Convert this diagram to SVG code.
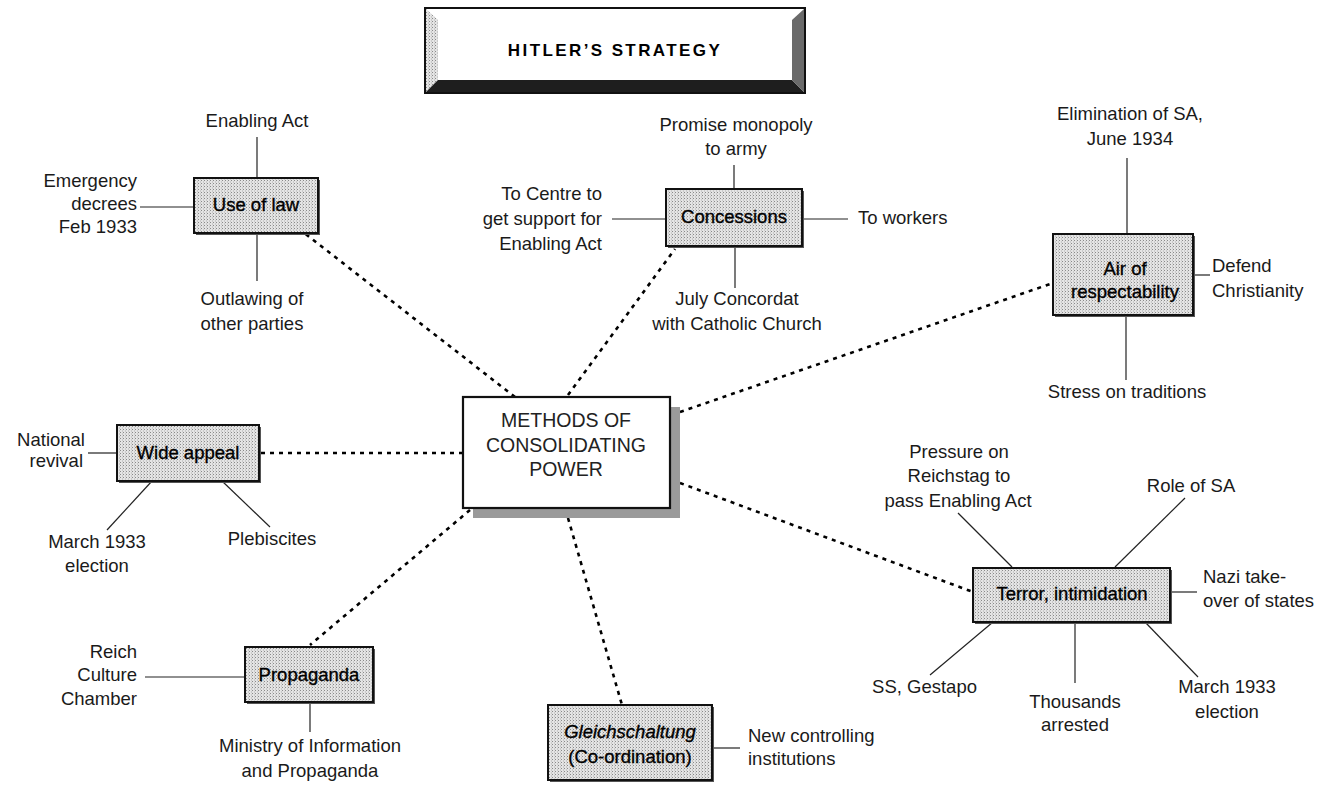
<svg xmlns="http://www.w3.org/2000/svg" width="1335" height="787" viewBox="0 0 1335 787">
<defs>
<pattern id="stip" width="3" height="3" patternUnits="userSpaceOnUse">
<rect width="3" height="3" fill="#e4e4e4"/>
<rect x="0" y="0" width="1" height="1" fill="#8a8a8a"/>
<rect x="2" y="1.5" width="1" height="1" fill="#b0b0b0"/>
</pattern>
<style>
.lbl{font-family:"Liberation Sans",Arial,sans-serif;font-size:18.5px;fill:#1a1a1a}
.box{fill:url(#stip);stroke:#111;stroke-width:2}
.sh{fill:#555}
.bl{font-family:"Liberation Sans",Arial,sans-serif;font-size:18.5px;fill:#000;stroke:#000;stroke-width:0.35;text-anchor:middle}
.ln{stroke:#222;stroke-width:1.2;fill:none}
.dt{stroke:#000;stroke-width:2.6;stroke-dasharray:4 5;fill:none}
.m{text-anchor:middle}
.e{text-anchor:end}
</style>
</defs>
<rect width="1335" height="787" fill="#fff"/>

<g id="title">
<rect x="425" y="8" width="380" height="85" fill="#fff" stroke="#111" stroke-width="2"/>
<polygon points="426,9 438,20 438,80 426,92" fill="url(#stip)"/>
<polygon points="426,92 438,80 792,80 804,92" fill="#1e1e1e"/>
<polygon points="804,9 792,20 792,80 804,92" fill="#6a6a6a"/>
<text x="615" y="56" class="m" style="font-family:'Liberation Sans',Arial,sans-serif;font-size:17px;font-weight:bold;letter-spacing:2.4px;fill:#000">HITLER’S STRATEGY</text>
</g>

<g id="connectors">
<line class="dt" x1="515" y1="397" x2="303" y2="232"/>
<line class="dt" x1="568" y1="395" x2="675" y2="249"/>
<line class="dt" x1="680" y1="412" x2="1053" y2="283"/>
<line class="dt" x1="463" y1="453" x2="259" y2="453"/>
<line class="dt" x1="680" y1="483" x2="973" y2="592"/>
<line class="dt" x1="470" y1="510" x2="310" y2="645"/>
<line class="dt" x1="568" y1="518" x2="622" y2="705"/>
<line class="ln" x1="257" y1="137" x2="257" y2="178"/>
<line class="ln" x1="140" y1="207" x2="194" y2="207"/>
<line class="ln" x1="257" y1="233" x2="257" y2="281"/>
<line class="ln" x1="734" y1="165" x2="734" y2="189"/>
<line class="ln" x1="612" y1="219" x2="666" y2="219"/>
<line class="ln" x1="802" y1="219" x2="848" y2="219"/>
<line class="ln" x1="735" y1="246" x2="735" y2="288"/>
<line class="ln" x1="1127" y1="158" x2="1127" y2="234"/>
<line class="ln" x1="1193" y1="275" x2="1210" y2="275"/>
<line class="ln" x1="1126" y1="315" x2="1126" y2="380"/>
<line class="ln" x1="88" y1="453" x2="117" y2="453"/>
<line class="ln" x1="152" y1="481" x2="107" y2="530"/>
<line class="ln" x1="222" y1="481" x2="270" y2="527"/>
<line class="ln" x1="1012" y1="567" x2="958" y2="513"/>
<line class="ln" x1="1115" y1="567" x2="1185" y2="498"/>
<line class="ln" x1="1170" y1="592" x2="1197" y2="592"/>
<line class="ln" x1="993" y1="622" x2="930" y2="675"/>
<line class="ln" x1="1075" y1="622" x2="1075" y2="683"/>
<line class="ln" x1="1145" y1="622" x2="1198" y2="677"/>
<line class="ln" x1="145" y1="677" x2="245" y2="677"/>
<line class="ln" x1="310" y1="702" x2="310" y2="732"/>
<line class="ln" x1="712" y1="748" x2="740" y2="748"/>
</g>

<g id="center">
<rect x="473" y="407" width="207" height="111" fill="#9a9a9a"/>
<rect x="463" y="397" width="207" height="111" fill="#fff" stroke="#111" stroke-width="2.2"/>
<text class="lbl m" style="font-size:19.5px;fill:#222" x="566"><tspan x="566" y="427">METHODS OF</tspan><tspan x="566" y="452">CONSOLIDATING</tspan><tspan x="566" y="476">POWER</tspan></text>
</g>

<g id="law">
<rect class="sh" x="196" y="180" width="124" height="55"/>
<rect class="box" x="194" y="178" width="124" height="55"/>
<text class="bl" x="256" y="211">Use of law</text>
</g>
<g id="law-enabling"><text class="lbl m" x="257" y="127">Enabling Act</text></g>
<g id="law-emergency"><text class="lbl e"><tspan x="137" y="187">Emergency</tspan><tspan x="137" y="210">decrees</tspan><tspan x="137" y="233">Feb 1933</tspan></text></g>
<g id="law-outlawing"><text class="lbl m"><tspan x="252" y="305">Outlawing of</tspan><tspan x="252" y="330">other parties</tspan></text></g>

<g id="concessions">
<rect class="sh" x="668" y="191" width="136" height="57"/>
<rect class="box" x="666" y="189" width="136" height="57"/>
<text class="bl" x="734" y="223">Concessions</text>
</g>
<g id="con-army"><text class="lbl m"><tspan x="736" y="131">Promise monopoly</tspan><tspan x="736" y="155">to army</tspan></text></g>
<g id="con-centre"><text class="lbl e"><tspan x="602" y="200">To Centre to</tspan><tspan x="602" y="225">get support for</tspan><tspan x="602" y="250">Enabling Act</tspan></text></g>
<g id="con-workers"><text class="lbl" x="858" y="224">To workers</text></g>
<g id="con-concordat"><text class="lbl m"><tspan x="737" y="305">July Concordat</tspan><tspan x="737" y="330">with Catholic Church</tspan></text></g>

<g id="air">
<rect class="sh" x="1055" y="236" width="140" height="81"/>
<rect class="box" x="1053" y="234" width="140" height="81"/>
<text class="bl"><tspan x="1125" y="275">Air of</tspan><tspan x="1125" y="298">respectability</tspan></text>
</g>
<g id="air-sa"><text class="lbl m"><tspan x="1130" y="120">Elimination of SA,</tspan><tspan x="1130" y="145">June 1934</tspan></text></g>
<g id="air-christ"><text class="lbl"><tspan x="1212" y="272">Defend</tspan><tspan x="1212" y="297">Christianity</tspan></text></g>
<g id="air-trad"><text class="lbl m" x="1127" y="398">Stress on traditions</text></g>

<g id="wide">
<rect class="sh" x="119" y="427" width="142" height="56"/>
<rect class="box" x="117" y="425" width="142" height="56"/>
<text class="bl" x="188" y="459">Wide appeal</text>
</g>
<g id="wide-national"><text class="lbl e"><tspan x="85" y="446">National</tspan><tspan x="83" y="467">revival</tspan></text></g>
<g id="wide-march"><text class="lbl m"><tspan x="97" y="548">March 1933</tspan><tspan x="97" y="572">election</tspan></text></g>
<g id="wide-pleb"><text class="lbl m" x="272" y="545">Plebiscites</text></g>

<g id="terror">
<rect class="sh" x="975" y="570" width="197" height="54"/>
<rect class="box" x="973" y="568" width="197" height="54"/>
<text class="bl" x="1072" y="600">Terror, intimidation</text>
</g>
<g id="ter-pressure"><text class="lbl m"><tspan x="959" y="458">Pressure on</tspan><tspan x="959" y="482">Reichstag to</tspan><tspan x="958" y="507">pass Enabling Act</tspan></text></g>
<g id="ter-sa"><text class="lbl m" x="1191" y="492">Role of SA</text></g>
<g id="ter-nazi"><text class="lbl"><tspan x="1203" y="583">Nazi take-</tspan><tspan x="1203" y="607">over of states</tspan></text></g>
<g id="ter-ss"><text class="lbl e" x="977" y="693">SS, Gestapo</text></g>
<g id="ter-thousands"><text class="lbl m"><tspan x="1075" y="708">Thousands</tspan><tspan x="1075" y="731">arrested</tspan></text></g>
<g id="ter-march"><text class="lbl m"><tspan x="1227" y="693">March 1933</tspan><tspan x="1227" y="718">election</tspan></text></g>

<g id="propaganda">
<rect class="sh" x="247" y="649" width="128" height="55"/>
<rect class="box" x="245" y="647" width="128" height="55"/>
<text class="bl" x="309" y="681">Propaganda</text>
</g>
<g id="prop-reich"><text class="lbl e"><tspan x="137" y="658">Reich</tspan><tspan x="137" y="681">Culture</tspan><tspan x="137" y="705">Chamber</tspan></text></g>
<g id="prop-ministry"><text class="lbl m"><tspan x="310" y="752">Ministry of Information</tspan><tspan x="310" y="777">and Propaganda</tspan></text></g>

<g id="gleich">
<rect class="sh" x="550" y="707" width="164" height="75"/>
<rect class="box" x="548" y="705" width="164" height="75"/>
<text class="bl"><tspan x="630" y="738" font-style="italic">Gleichschaltung</tspan><tspan x="630" y="763">(Co-ordination)</tspan></text>
</g>
<g id="gl-new"><text class="lbl"><tspan x="748" y="742">New controlling</tspan><tspan x="748" y="765">institutions</tspan></text></g>
</svg>
